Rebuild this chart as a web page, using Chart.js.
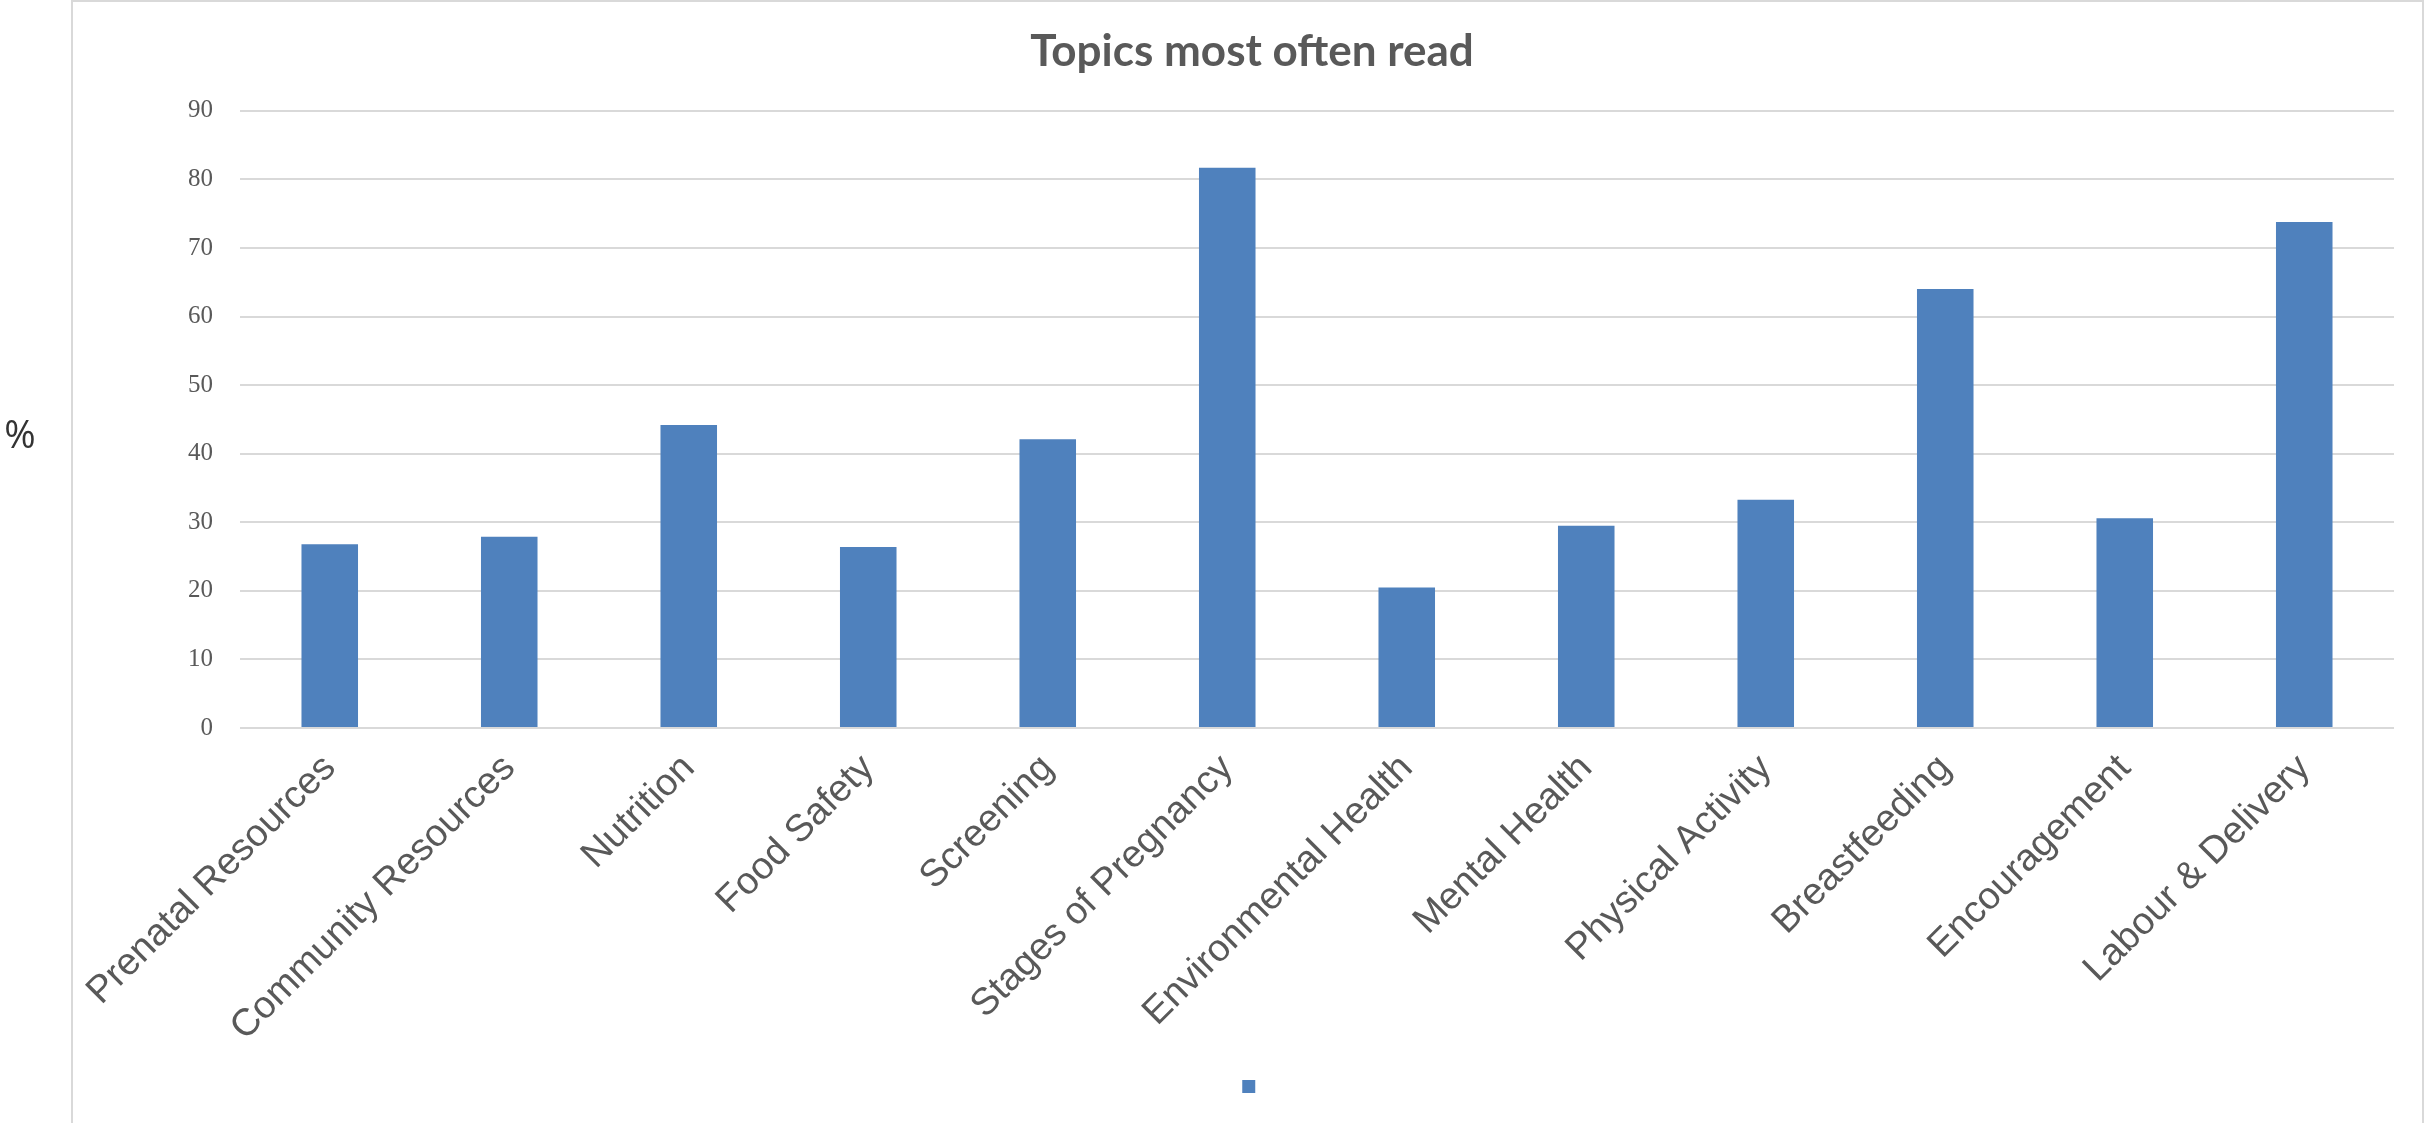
<!DOCTYPE html>
<html>
<head>
<meta charset="utf-8">
<title>Topics most often read</title>
<script src="https://cdn.jsdelivr.net/npm/chart.js@4.4.1/dist/chart.umd.min.js"></script>
<style>
  html, body { margin: 0; padding: 0; background: #fff; }
  #wrap { position: relative; width: 2425px; height: 1123px; }
</style>
</head>
<body>
<div id="wrap"><canvas id="chart-topics"></canvas></div>
<script>
// topics and share of readers (%)
const topics = [
  'Prenatal Resources',
  'Community Resources',
  'Nutrition',
  'Food Safety',
  'Screening',
  'Stages of Pregnancy',
  'Environmental Health',
  'Mental Health',
  'Physical Activity',
  'Breastfeeding',
  'Encouragement',
  'Labour & Delivery'
];
const percentRead = [26.8, 27.9, 44.2, 26.4, 42.1, 81.7, 20.5, 29.5, 33.3, 64.0, 30.6, 73.8];
const yTicks = [0, 10, 20, 30, 40, 50, 60, 70, 80, 90];

const barColor = '#4F81BD';
const gridColor = '#D9D9D9';
const textColor = '#595959';

// white page, chart frame and the "%" unit label on the left
const framePlugin = {
  id: 'frame',
  beforeDraw(chart) {
    const ctx = chart.ctx;
    ctx.save();
    ctx.fillStyle = '#fff';
    ctx.fillRect(0, 0, chart.width, chart.height);
    ctx.strokeStyle = gridColor;
    ctx.lineWidth = 2;
    ctx.strokeRect(72, 1, 2351, chart.height + 10);
    ctx.restore();
  },
  afterDraw(chart) {
    const ctx = chart.ctx;
    ctx.save();
    ctx.fillStyle = '#333';
    ctx.font = '38px "Open Sans", sans-serif';
    ctx.textAlign = 'center';
    ctx.textBaseline = 'middle';
    ctx.fillText('%', 20, 437);
    ctx.restore();
  }
};

const ctx = document.getElementById('chart-topics').getContext('2d');
const chart = new Chart(ctx, {
  type: 'bar',
  data: {
    labels: topics,
    datasets: [{
      label: '',
      data: percentRead,
      backgroundColor: barColor,
      borderWidth: 0,
      categoryPercentage: 1,
      barPercentage: 0.315
    }]
  },
  options: {
    responsive: true,
    maintainAspectRatio: false,
    animation: false,
    layout: { padding: { left: 110, right: 31, top: 0, bottom: 20 } },
    plugins: {
      title: {
        display: true,
        text: 'Topics most often read',
        color: textColor,
        font: { family: 'Lato', size: 44, weight: 'bold' },
        padding: { top: 25, bottom: 33 },
        align: 'center'
      },
      legend: {
        position: 'bottom',
        labels: { boxWidth: 13, boxHeight: 13, padding: 10, font: { size: 13 } }
      },
      tooltip: { enabled: false }
    },
    scales: {
      x: {
        grid: { display: false, drawTicks: false },
        border: { display: false },
        ticks: {
          color: textColor,
          font: { family: '"Liberation Sans", Arial, sans-serif', size: 38 },
          maxRotation: 45,
          minRotation: 45,
          autoSkip: false,
          padding: 18
        },
        afterFit(scale) {
          scale.height = 342;
          scale.paddingLeft = 0;
          scale.paddingRight = 0;
        }
      },
      y: {
        min: 0,
        max: 90,
        afterBuildTicks(scale) {
          scale.ticks = yTicks.map(v => ({ value: v }));
        },
        grid: { color: gridColor, lineWidth: 2, drawTicks: false },
        border: { display: false },
        ticks: {
          color: textColor,
          font: { family: '"Liberation Serif", serif', size: 25 },
          padding: 27
        },
        afterFit(scale) {
          scale.width = 130;
        }
      }
    }
  },
  plugins: [framePlugin]
});
</script>
</body>
</html>
